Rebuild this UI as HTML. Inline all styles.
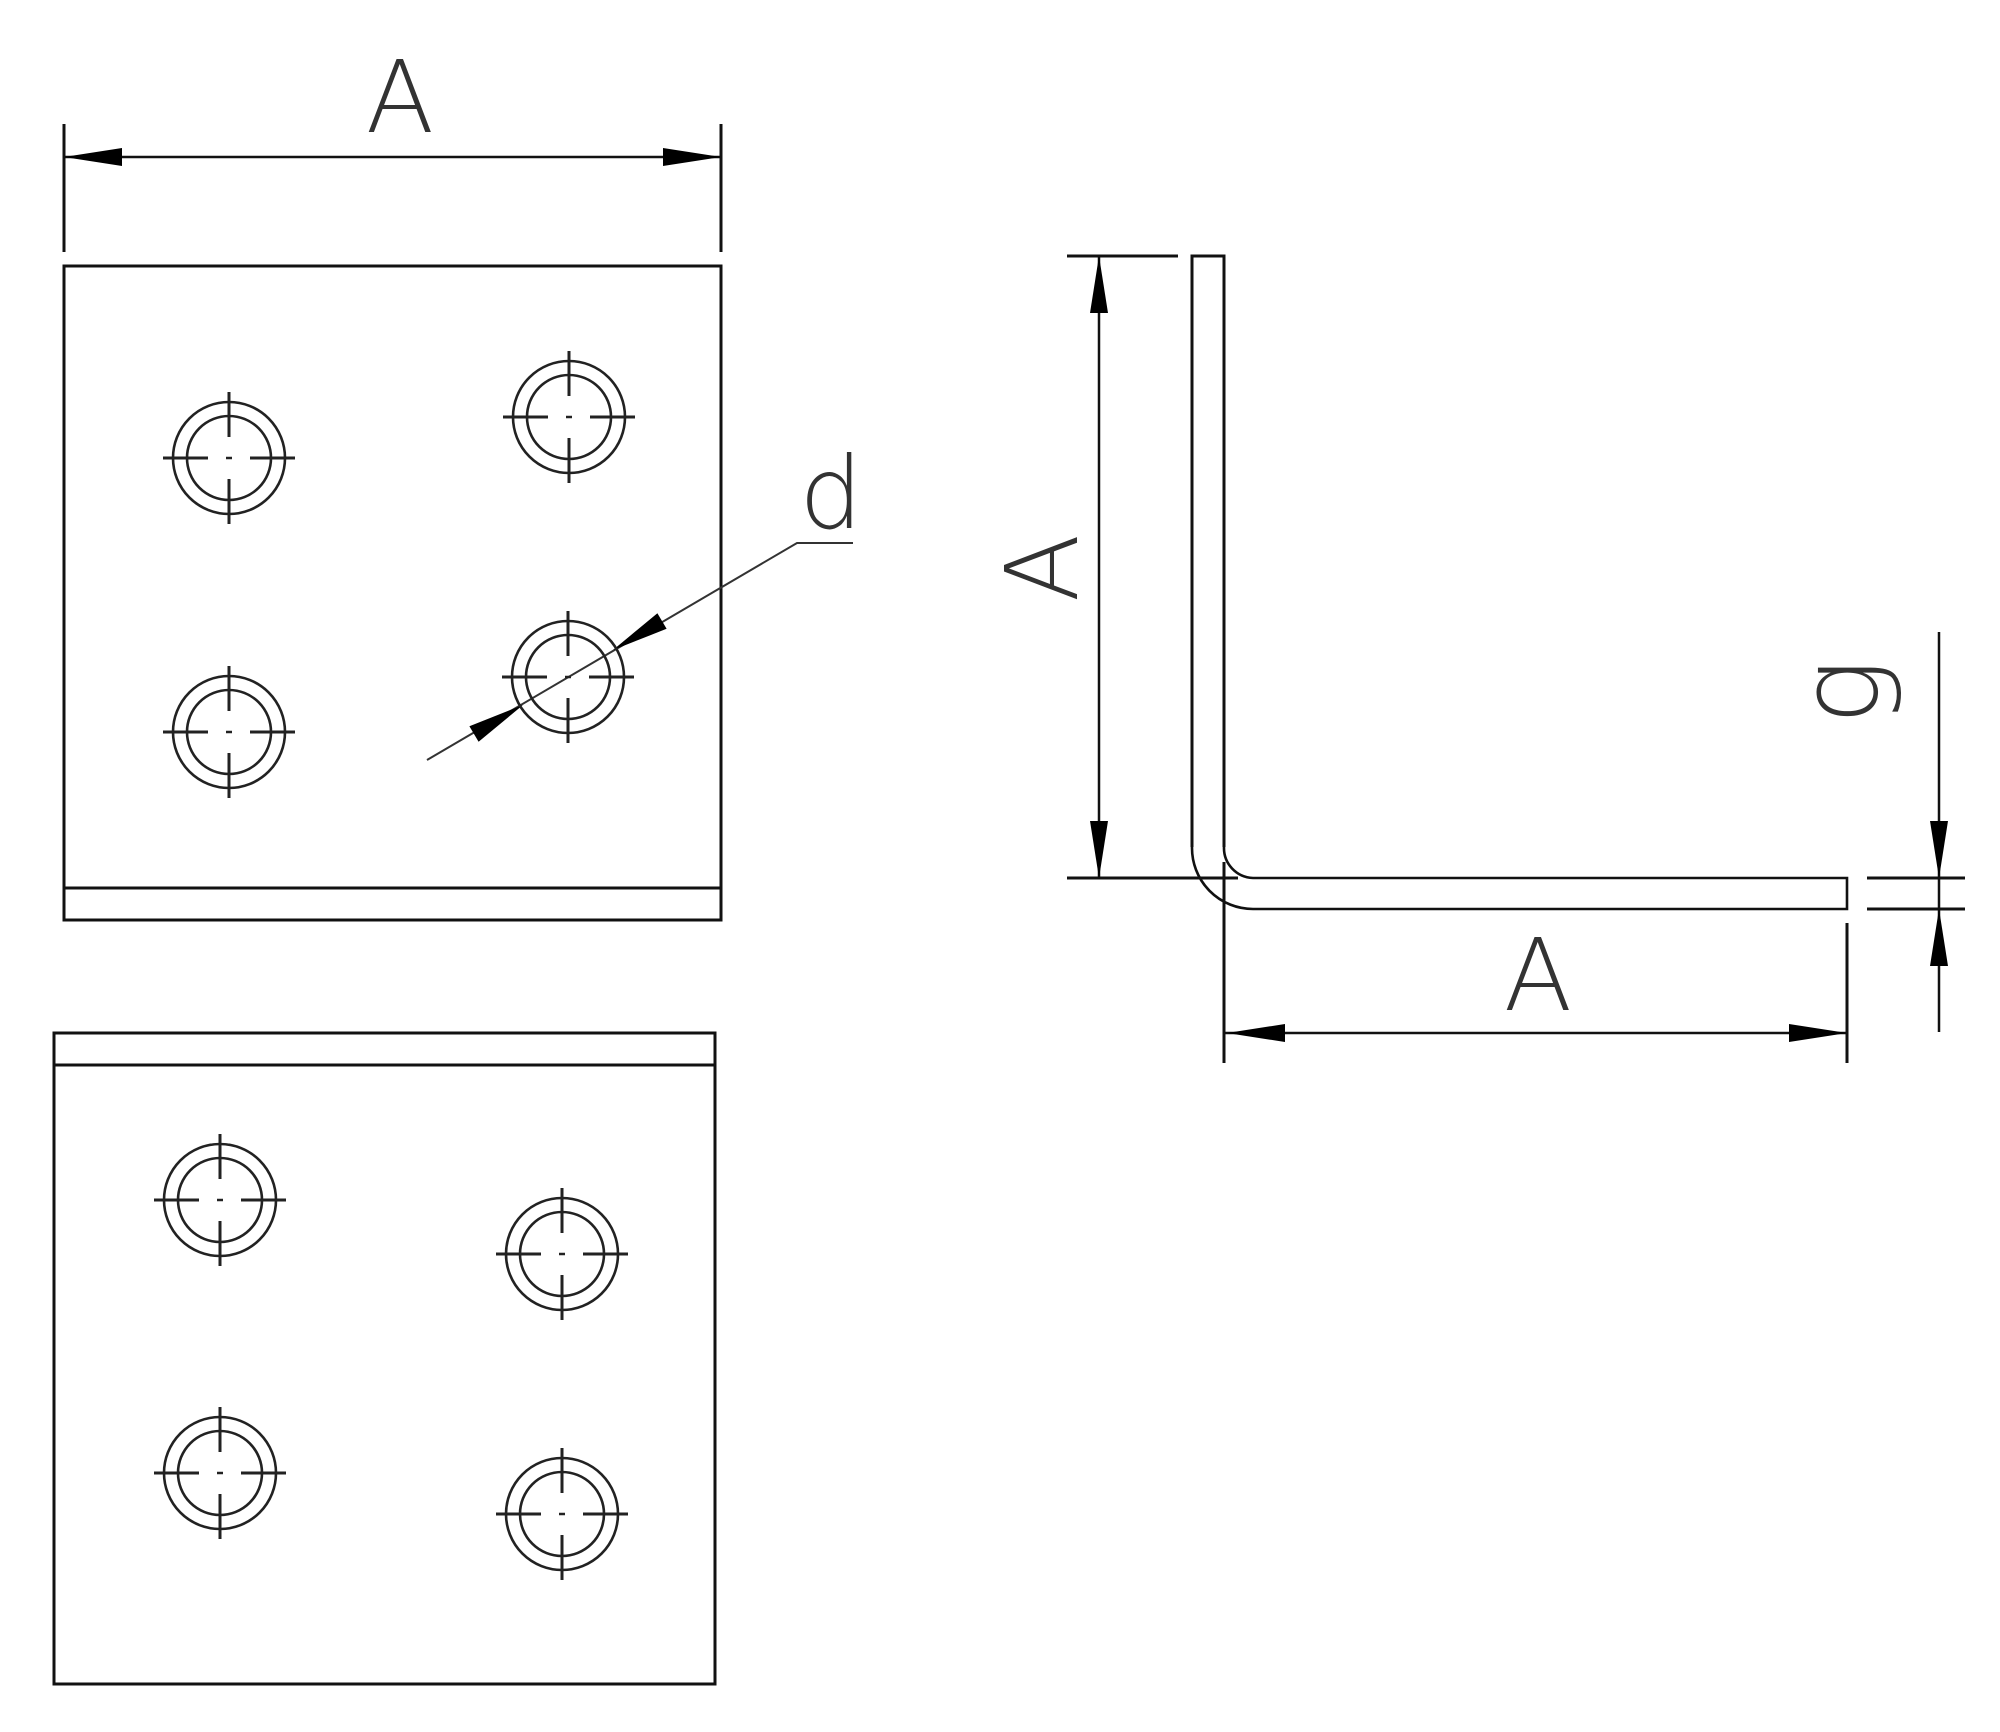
<!DOCTYPE html>
<html><head><meta charset="utf-8"><style>
html,body{margin:0;padding:0;background:#fff;}
svg{display:block;}
text{font-family:"DejaVu Sans","Liberation Sans",sans-serif;font-weight:200;fill:#333;}
</style></head><body>
<svg width="2000" height="1732" viewBox="0 0 2000 1732" xmlns="http://www.w3.org/2000/svg">
<defs>
<g id="hole" stroke="#222" fill="none" stroke-width="2.6">
<circle r="56"/><circle r="42"/>
<line x1="-66" y1="0" x2="-21" y2="0" stroke-width="3"/><line x1="21" y1="0" x2="66" y2="0" stroke-width="3"/>
<line x1="0" y1="-66" x2="0" y2="-21" stroke-width="3"/><line x1="0" y1="21" x2="0" y2="66" stroke-width="3"/>
<line x1="-3" y1="0" x2="3" y2="0" stroke-width="2.5"/>
</g>
</defs>
<g stroke="#111" stroke-width="3" fill="none">
<!-- top view -->
<line x1="64" y1="124" x2="64" y2="252"/>
<line x1="721" y1="124" x2="721" y2="252"/>
<line x1="64" y1="157" x2="721" y2="157" stroke-width="2.5"/>
<rect x="64" y="266" width="657" height="654"/>
<line x1="64" y1="888" x2="721" y2="888"/>
<!-- leader d -->
<polyline points="427,760 797,543 853,543" stroke-width="2" stroke="#333"/>
<!-- bottom view -->
<rect x="54" y="1033" width="661" height="651"/>
<line x1="54" y1="1065" x2="715" y2="1065"/>
<!-- side view -->
<path d="M1192,847 L1192,256 L1224,256 L1224,847"/>
<path d="M1192,847 A61,61 0 0 0 1253,909 L1847,909 L1847,878 L1253,878 A30,30 0 0 1 1224,847" stroke-width="2.6"/>
<line x1="1067" y1="256" x2="1178" y2="256"/>
<line x1="1099" y1="256" x2="1099" y2="878" stroke-width="2.5"/>
<line x1="1067" y1="878" x2="1238" y2="878"/>
<line x1="1224" y1="862" x2="1224" y2="1063"/>
<line x1="1847" y1="923" x2="1847" y2="1063"/>
<line x1="1224" y1="1033" x2="1847" y2="1033" stroke-width="2.5"/>
<line x1="1867" y1="878" x2="1965" y2="878"/>
<line x1="1867" y1="909" x2="1965" y2="909"/>
<line x1="1939" y1="632" x2="1939" y2="1032" stroke-width="2.5"/>
</g>
<g fill="#000">
<polygon points="64,157 122,148 122,166"/>
<polygon points="721,157 663,148 663,166"/>
<polygon points="1099,256 1090,313 1108,313"/>
<polygon points="1099,878 1090,821 1108,821"/>
<polygon points="1227,1033 1285,1024 1285,1042"/>
<polygon points="1847,1033 1789,1024 1789,1042"/>
<polygon points="1939,878 1930,821 1948,821"/>
<polygon points="1939,909 1930,966 1948,966"/>
<polygon points="523,705 478.6,741.8 469.4,726.2"/>
<polygon points="613,650 666.6,628.8 657.4,613.2"/>
</g>
<use href="#hole" x="229" y="458"/>
<use href="#hole" x="569" y="417"/>
<use href="#hole" x="229" y="732"/>
<use href="#hole" x="568" y="677"/>
<use href="#hole" x="220" y="1200"/>
<use href="#hole" x="562" y="1254"/>
<use href="#hole" x="220" y="1473"/>
<use href="#hole" x="562" y="1514"/>
<text x="400" y="132" font-size="100" text-anchor="middle">A</text>
<text x="831" y="528" font-size="100" text-anchor="middle">d</text>
<text x="1538" y="1010" font-size="100" text-anchor="middle">A</text>
<text transform="translate(1077,568) rotate(-90)" font-size="100" text-anchor="middle">A</text>
<text transform="translate(1878,692) rotate(-90)" font-size="110" text-anchor="middle">g</text>
</svg>
</body></html>
